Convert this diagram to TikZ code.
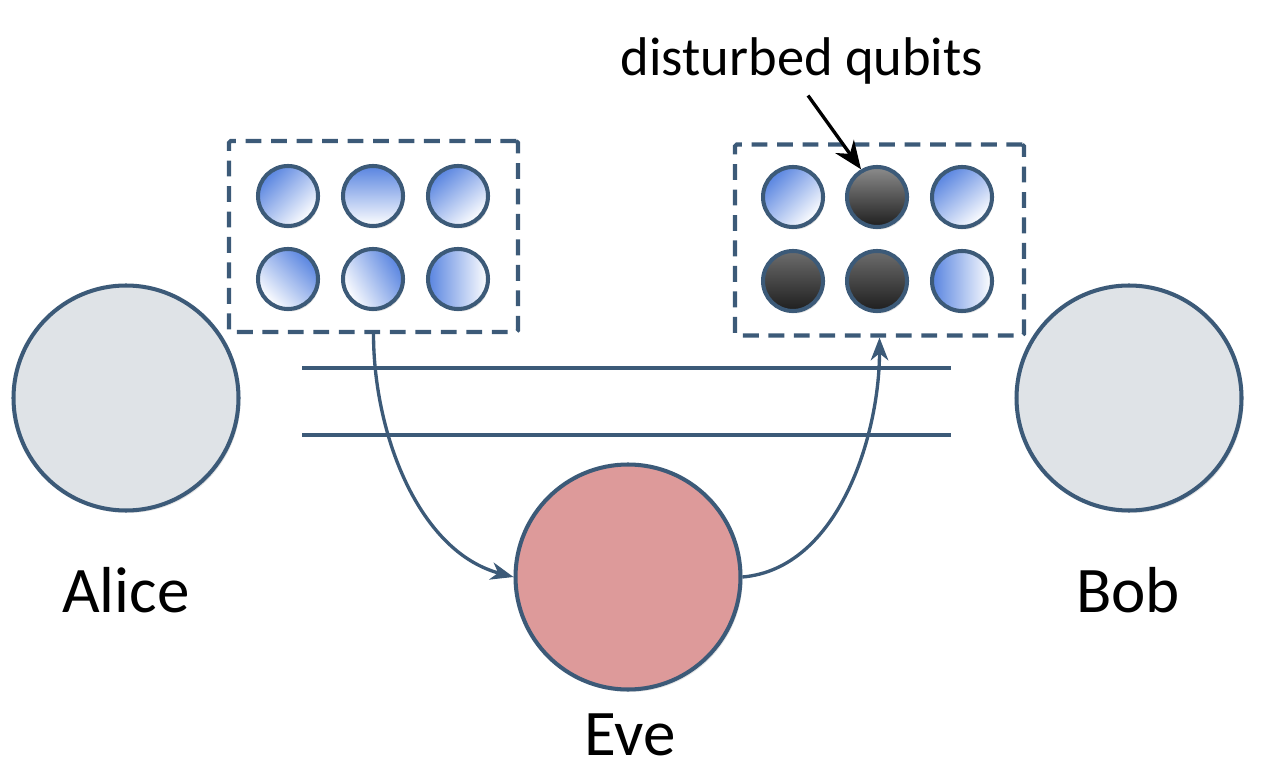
\documentclass[tikz,border=0pt]{standalone}
\usepackage{fontspec}
\setmainfont{Carlito}
\usetikzlibrary{positioning,arrows.meta,shadows}

\definecolor{edgeblue}{RGB}{60,90,120}
\definecolor{partyfill}{RGB}{223,227,231}
\definecolor{evefill}{RGB}{221,154,154}
\definecolor{qblue}{RGB}{88,132,224}
\definecolor{qdark}{RGB}{30,30,30}
\definecolor{qgray}{RGB}{140,140,140}

\begin{document}
\begin{tikzpicture}[
    party/.style={
        circle,
        draw=edgeblue,
        line width=2.3pt,
        minimum size=4.5cm,
        drop shadow={opacity=0.2, shadow xshift=0.04cm, shadow yshift=-0.05cm}
    },
    qubit/.style={
        circle,
        draw=edgeblue,
        line width=2.3pt,
        minimum size=1.2cm,
        inner sep=0pt,
        top color=qblue,
        bottom color=white,
        drop shadow={opacity=0.25, shadow xshift=0.03cm, shadow yshift=-0.05cm}
    },
    bad/.style={
        qubit,
        top color=qgray,
        bottom color=qdark
    },
    worse/.style={
        qubit,
        top color=qdark!65,
        bottom color=qdark
    },
    batch/.style={
        rectangle,
        draw=edgeblue,
        line width=2.3pt,
        dash pattern=on 9pt off 5.5pt,
        rounded corners=1pt,
        minimum width=5.78cm,
        minimum height=3.82cm
    },
    channel/.style={
        draw=edgeblue,
        line width=2.8pt
    },
    arrow/.style={
        -{Stealth[length=13pt,width=10pt,inset=4pt]},
        draw=edgeblue,
        line width=1.9pt
    },
    partylbl/.style={
        font=\fontsize{37}{42}\selectfont
    }
]

\useasboundingbox (0,0) rectangle (25.44,15.44);

\node[party, fill=partyfill] (alice) at (2.52,7.48) {};
\node[party, fill=partyfill] (bob) at (22.58,7.48) {};
\node[party, fill=evefill] (eve) at (12.56,3.9) {};

\node[partylbl] (alicelbl) at (2.52,3.64) {Alice};
\node[partylbl] (boblbl) at (22.56,3.64) {Bob};
\node[partylbl] (evelbl) at (12.6,0.74) {Eve};

\coordinate (c1a) at (6.04,8.08);
\coordinate (c1b) at (19.02,8.08);
\coordinate (c2a) at (6.04,6.74);
\coordinate (c2b) at (19.02,6.74);
\draw[channel] (c1a) -- (c1b);
\draw[channel] (c2a) -- (c2b);

\node[batch] (aliceq) at (7.47,10.71) {};
\node[batch] (bobq) at (17.59,10.64) {};

\node[qubit, shading angle=45] (a11) at (5.76,11.52) {};
\node[qubit, shading angle=0] (a12) at (7.46,11.52) {};
\node[qubit, shading angle=40] (a13) at (9.16,11.52) {};
\node[qubit, shading angle=-45] (a21) at (5.76,9.86) {};
\node[qubit, shading angle=-60] (a22) at (7.46,9.86) {};
\node[qubit, shading angle=90] (a23) at (9.16,9.86) {};

\node[qubit, shading angle=45] (b11) at (15.86,11.5) {};
\node[bad] (b12) at (17.54,11.5) {};
\node[qubit, shading angle=40] (b13) at (19.24,11.5) {};
\node[worse] (b21) at (15.86,9.82) {};
\node[worse] (b22) at (17.54,9.82) {};
\node[qubit, shading angle=90] (b23) at (19.24,9.82) {};

\node[font=\fontsize{31}{36}\selectfont] (disturbed) at (16.04,14.22) {disturbed qubits};

\draw[-{Stealth[length=16pt,width=13pt]}, line width=1.9pt] (disturbed.south) ++(0.12,-0.1) -- (b12.120);

\draw[arrow] (aliceq.south) to[out=-90, in=165, looseness=0.9] (eve.west);
\draw[arrow] (eve.east) to[out=5, in=-90, looseness=0.9] (bobq.south);

\end{tikzpicture}
\end{document}
